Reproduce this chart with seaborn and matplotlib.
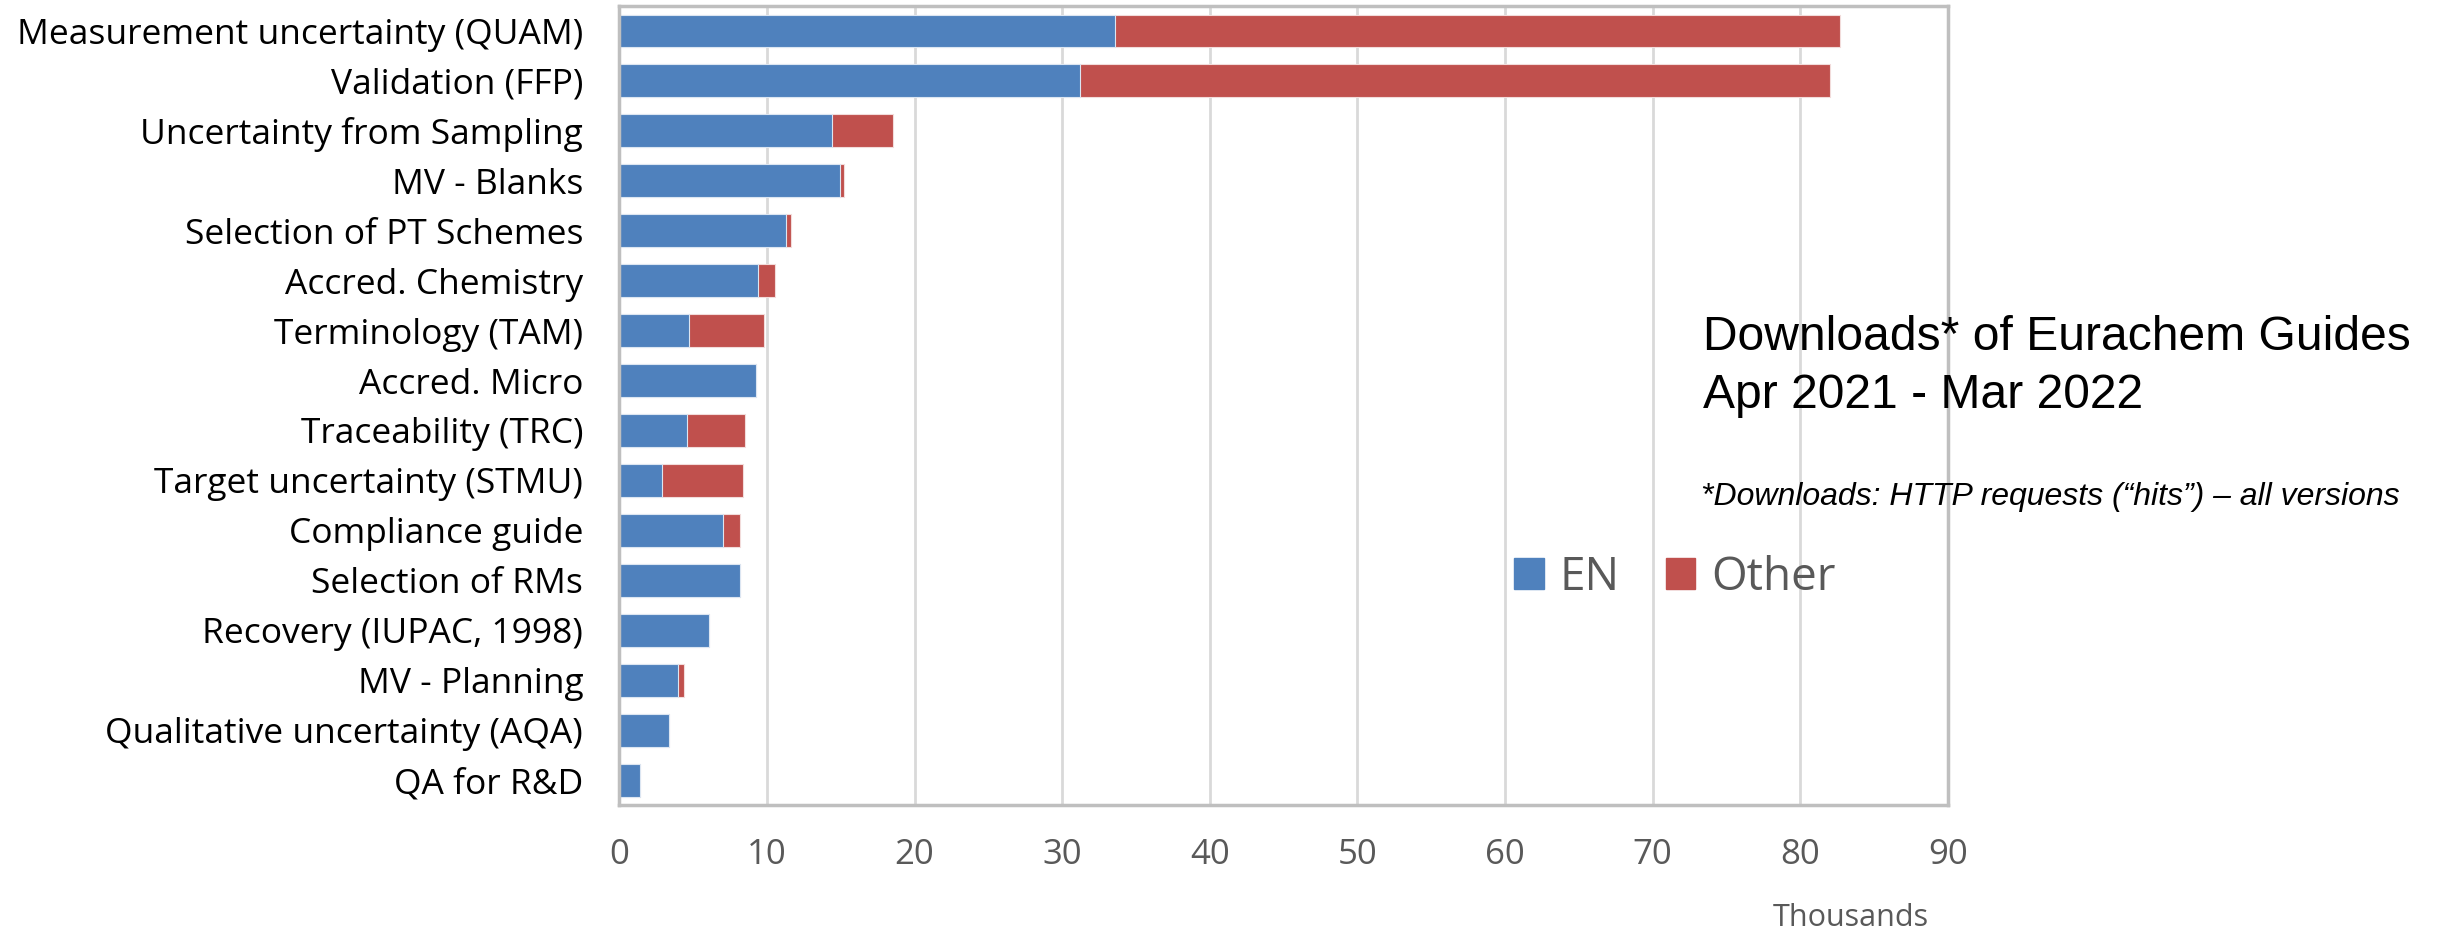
import matplotlib
matplotlib.use("Agg")
import matplotlib.pyplot as plt
from matplotlib.patches import Patch
import pandas as pd
import seaborn as sns

# Guide names, top to bottom
guides = ['Measurement uncertainty (QUAM)', 'Validation (FFP)', 'Uncertainty from Sampling',
          'MV - Blanks', 'Selection of PT Schemes', 'Accred. Chemistry', 'Terminology (TAM)',
          'Accred. Micro', 'Traceability (TRC)', 'Target uncertainty (STMU)', 'Compliance guide',
          'Selection of RMs', 'Recovery (IUPAC, 1998)', 'MV - Planning',
          'Qualitative uncertainty (AQA)', 'QA for R&D']

# downloads in thousands
en = [33.6, 31.2, 14.4, 14.95, 11.3, 9.4, 4.7, 9.27, 4.56, 2.87, 7.0, 8.16, 6.1, 3.95, 3.37, 1.38]
other = [49.1, 50.8, 4.15, 0.3, 0.32, 1.15, 5.13, 0.0, 3.96, 5.49, 1.16, 0.0, 0.0, 0.43, 0.0, 0.0]

BLUE = '#4F81BD'
RED = '#C0504D'

df = pd.DataFrame({'guide': guides, 'EN': en, 'Other': other})
df['total'] = df['EN'] + df['Other']

sns.set_style('white')
plt.rcParams['font.family'] = ['Open Sans', 'DejaVu Sans']

fig = plt.figure(figsize=(24.38, 9.3), dpi=100)
ax = fig.add_axes([0.254, 0.1344, 0.545, 0.8591])

# stacked bars: total in red, EN drawn on top in blue
sns.barplot(data=df, x='total', y='guide', color=RED, width=0.66, ax=ax,
            edgecolor='#F2DCDB', linewidth=0.8, saturation=1)
sns.barplot(data=df, x='EN', y='guide', color=BLUE, width=0.66, ax=ax,
            edgecolor='#DCE6F2', linewidth=0.8, saturation=1)

ax.set_xlim(0, 90)
ax.set_xticks(range(0, 91, 10))
ax.set_xlabel('')
ax.set_ylabel('')
ax.grid(axis='x', color='#D9D9D9', linewidth=2)
ax.set_axisbelow(True)
for s in ax.spines.values():
    s.set_color('#BFBFBF')
    s.set_linewidth(2.5)
ax.tick_params(axis='x', length=0, pad=24, labelsize=25, labelcolor='#595959')
ax.tick_params(axis='y', length=0, pad=26, labelsize=25.5, labelcolor='black')

fig.text(0.759, 0.029, 'Thousands', ha='center', va='top', fontsize=22, color='#595959')

# title block
fig.text(0.6985, 0.6235, 'Downloads* of Eurachem Guides', fontsize=34.6, color='black',
         family='Liberation Sans', va='baseline')
fig.text(0.6985, 0.5611, 'Apr 2021 - Mar 2022', fontsize=34.6, color='black',
         family='Liberation Sans', va='baseline')
fig.text(0.6975, 0.4570, '*Downloads: HTTP requests (\u201chits\u201d) \u2013 all versions', fontsize=23,
         family='Liberation Sans', style='italic', va='baseline', color='black')

handles = [Patch(color=BLUE, label='EN'), Patch(color=RED, label='Other')]
leg = fig.legend(handles=handles, loc='center left', bbox_to_anchor=(0.6115, 0.379), ncol=2,
                 frameon=False, fontsize=33, handlelength=0.65, handleheight=0.65,
                 handletextpad=0.35, columnspacing=1.0, borderpad=0)
for t in leg.get_texts():
    t.set_color('#595959')

fig.savefig('out.png', dpi=100)
